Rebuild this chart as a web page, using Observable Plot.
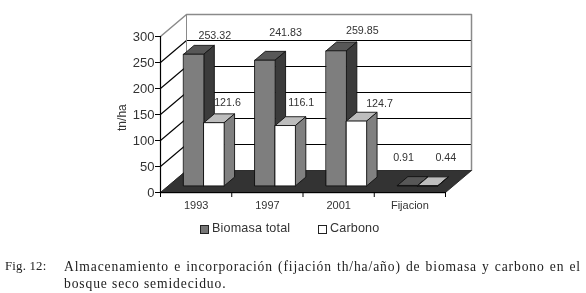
<!DOCTYPE html>
<html><head><meta charset="utf-8">
<script src="https://cdn.jsdelivr.net/npm/d3@7"></script>
<script src="https://cdn.jsdelivr.net/npm/@observablehq/plot@0.6"></script>
<style>
html,body{margin:0;padding:0;background:#fff;overflow:hidden}
#page{position:relative;width:586px;height:293px}
#chart svg{display:block;filter:blur(.35px);overflow:visible}
#legend{position:absolute;left:0;top:220px;height:18px;width:586px;font:12.6px "Liberation Sans",sans-serif;letter-spacing:.15px;color:#333;filter:blur(.3px)}
#legend i{position:absolute;top:5px;width:7px;height:7px;border:1px solid #222}
#legend span{position:absolute;top:1px;white-space:nowrap}
#cap{position:absolute;left:0;top:258px;width:586px;font:13.6px/17px "Liberation Serif",serif;color:#222;letter-spacing:.87px;filter:blur(.25px)}
#cap .a{position:absolute;left:5px;top:0;font-size:12.8px;letter-spacing:.2px}
#cap .b{position:absolute;left:64px;top:0;width:517px;text-align:justify;text-align-last:justify;white-space:nowrap}
#cap .c{position:absolute;left:64px;top:17px;white-space:nowrap}
</style></head><body>
<div id="page"><div id="chart"></div>
<div id="legend"><i style="left:200px;background:#777"></i><span style="left:212px">Biomasa total</span><i style="left:318px;background:#fff"></i><span style="left:330px">Carbono</span></div>
<div id="cap"><div class="a">Fig. 12:</div><div class="b">Almacenamiento e incorporación (fijación th/ha/año) de biomasa y carbono en el</div><div class="c">bosque seco semideciduo.</div></div>
</div>
<script>
const categories = ["1993","1997","2001","Fijacion"];
const biomasa = [253.32,241.83,259.85,0.91];
const carbono = [121.6,116.1,124.7,0.44];
const biomasaLabels = ["253.32","241.83","259.85","0.91"];
const carbonoLabels = ["121.6","116.1","124.7","0.44"];
const yTicks = [0,50,100,150,200,250,300];

// Oblique projection of (category position, value, depth 0..1) into the plot's data space
const depthX = 0.365, depthY = 42.3;
const P = (c,v,d) => ({x:c+d*depthX, y:v+d*depthY});
const faces = [];
let id = 0;
const face = (color, stroke, ...pts) => { const z = id++; for (const p of pts) faces.push({...p, z, color, stroke}); };

// walls and floor
const gridStroke = "#000", wallStroke = "#8a8a8a", floorFill = "#333";
face("#fff", "none", P(0,0,0), P(0,0,1), P(0,300,1), P(0,300,0));
face("#fff", "none", P(0,0,1), P(4,0,1), P(4,300,1), P(0,300,1));
face(floorFill, "#222", P(0,0,0), P(0,0,1), P(4,0,1), P(4,0,0));

// bars
const barW = 0.284, d0 = 0.3, d1 = 0.7;
const box = (c, v, front, top, side) => {
  const a = c, b = c + barW;
  face(top, "#111", P(a,v,d0), P(a,v,d1), P(b,v,d1), P(b,v,d0));
  face(side, "#111", P(b,0,d0), P(b,0,d1), P(b,v,d1), P(b,v,d0));
  face(front, "#111", P(a,0,d0), P(b,0,d0), P(b,v,d0), P(a,v,d0));
};
categories.forEach((_,i) => {
  const start = i + 0.5 - barW;
  box(start, biomasa[i], "#7e7e7e", "#575757", "#3b3b3b");
  box(start + barW, carbono[i], "#fff", "#bdbdbd", "#808080");
});

// value-label placement follows the original's hand-set labels
const nudgeB = [[21,-19],[20.5,-27.6],[26,-20],[-4,-13]], nudgeC = [[13.5,-20],[16,-23],[23,-17.5],[18,-13]];
const labels = [];
categories.forEach((_,i) => {
  const start = i + 0.5 - barW;
  const yy = v => i === 3 ? 30 : v;
  const pb = P(start + barW/2, yy(biomasa[i]), d0), pc = P(start + barW*1.5, yy(carbono[i]), d0);
  labels.push({...pb, t:biomasaLabels[i], dx:nudgeB[i][0], dy:nudgeB[i][1]});
  labels.push({...pc, t:carbonoLabels[i], dx:nudgeC[i][0], dy:nudgeC[i][1]});
});

const backRules = yTicks.filter(v => v > 0 && v < 300);
const behind = faces.filter(f => f.z < 2), front = faces.filter(f => f.z >= 2);
const lineOpts = {x:"x", y:"y", z:"z", fill:"color", stroke:"stroke", strokeWidth:0.9, curve:"linear-closed"};

const plot = Plot.plot({
  width:586, height:220,
  marginLeft:160, marginRight:141, marginTop:36, marginBottom:28,
  x:{domain:[0,4]}, y:{domain:[0,300]}, color:{type:"identity"},
  style:{background:"transparent", fontFamily:"'Liberation Sans',sans-serif", color:"#333", overflow:"visible"},
  marks:[
    Plot.line(behind, lineOpts),
    // gridlines on back and side walls
    Plot.ruleY(backRules, {x1:P(0,0,1).x, x2:P(4,0,1).x, y:v => v + depthY, stroke:gridStroke, strokeWidth:1}),
    Plot.link(backRules, {x1:0, y1:v => v, x2:P(0,0,1).x, y2:v => v + depthY, stroke:gridStroke, strokeWidth:1.1}),
    // wall outline
    Plot.line([P(0,300,0),P(0,300,1),P(4,300,1),P(4,0,1)], {x:"x", y:"y", stroke:wallStroke, strokeWidth:1.5}),
    Plot.line([P(0,0,0),P(0,0,1),P(0,300,1)], {x:"x", y:"y", stroke:wallStroke, strokeWidth:1}),
    Plot.line(front, lineOpts),
    // front axes
    Plot.ruleX([0], {stroke:"#000", strokeWidth:1.2}),
    Plot.ruleY([0], {stroke:"#000", strokeWidth:1.2}),
    Plot.axisY({ticks:yTicks, tickSize:5, tickPadding:1, fontSize:13, label:null, stroke:"#000"}),
    Plot.axisX({ticks:[0,1,2,3,4], tickSize:5, tickFormat:() => "", label:null, stroke:"#000"}),
    Plot.axisX({ticks:[0.5,1.5,2.5,3.5], tickSize:0, tickPadding:9, fontSize:11, tickFormat:v => categories[v-0.5], label:null}),
    Plot.text(["tn/ha"], {frameAnchor:"left", textAnchor:"middle", y:144, dx:-38, rotate:-90, fontSize:12, fill:"#333"}),
    ...labels.map(l => Plot.text([l], {x:"x", y:"y", text:"t", dx:l.dx, dy:l.dy, fontSize:10.7, fill:"#333"}))
  ]
});
document.getElementById("chart").append(plot);
</script>
</body></html>
